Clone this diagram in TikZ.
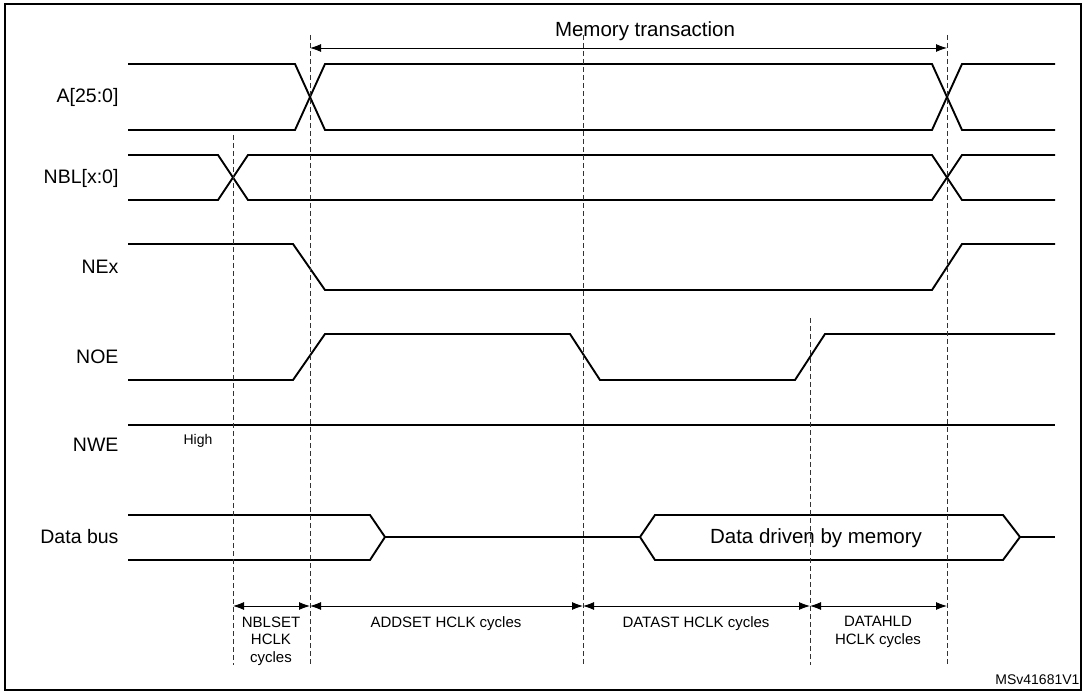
\documentclass[tikz,border=0pt]{standalone}
\usepackage{fontspec}
\setmainfont{Liberation Sans}
\usetikzlibrary{arrows.meta}
\begin{document}
\begin{tikzpicture}[x=1pt,y=-1pt,
  sig/.style={line width=1.9pt, line join=miter},
  guide/.style={dashed, dash pattern=on 5pt off 3pt, line width=0.8pt, black!80},
  dim/.style={line width=0.9pt, {Latex[length=11pt,width=8pt]}-{Latex[length=11pt,width=8pt]}},
  lbl/.style={anchor=east, font=\fontsize{19.5}{22}\selectfont},
  small/.style={font=\fontsize{15}{17.5}\selectfont, align=center}]
\useasboundingbox (0,0) rectangle (1085,692);
\draw[line width=2pt] (5,4) rectangle (1081,690);
% labels
\node[lbl] (lA) at (122,97) {A[25:0]};
\node[lbl] (lB) at (122,178) {NBL[x:0]};
\node[lbl] (lN) at (122,267) {NEx};
\node[lbl] (lO) at (122,357) {NOE};
\node[lbl] (lW) at (122,445) {NWE};
\node[lbl] (lD) at (122,537) {Data bus};
\node[font=\fontsize{14}{16}\selectfont] (hi) at (198,441) {High};
% A
\draw[sig] (128,64) -- (295,64) -- (325,130) -- (932,130) -- (962,64) -- (1055,64);
\draw[sig] (128,130) -- (295,130) -- (325,64) -- (932,64) -- (962,130) -- (1055,130);
% NBL
\draw[sig] (128,155) -- (218,155) -- (248,200) -- (932,200) -- (962,155) -- (1055,155);
\draw[sig] (128,200) -- (218,200) -- (248,155) -- (932,155) -- (962,200) -- (1055,200);
% NEx
\draw[sig] (128,244) -- (293,244) -- (325,290) -- (932,290) -- (962,244) -- (1055,244);
% NOE
\draw[sig] (128,380) -- (293,380) -- (325,334) -- (570,334) -- (600,380) -- (795,380) -- (825,334) -- (1055,334);
% NWE
\draw[sig] (128,425) -- (1055,425);
% Data bus
\draw[sig] (128,515) -- (370,515) -- (385,537) -- (370,560) -- (128,560);
\draw[sig] (385,537) -- (640,537);
\draw[sig] (655,515) -- (640,537) -- (655,560) -- (1003,560) -- (1020,537) -- (1003,515) -- cycle;
\draw[sig] (1020,537) -- (1055,537);
\node[font=\fontsize{20.5}{24}\selectfont] (dd) at (816,538) {Data driven by memory};
% guides
\coordinate (g1t) at (233,135); \coordinate (g1b) at (233,665);
\coordinate (g2t) at (310,35); \coordinate (g2b) at (310,665);
\coordinate (g3t) at (583,35); \coordinate (g3b) at (583,665);
\coordinate (g4t) at (810,318); \coordinate (g4b) at (810,665);
\coordinate (g5t) at (947,35); \coordinate (g5b) at (947,665);
\foreach \g in {1,...,5} \draw[guide] (g\g t) -- (g\g b);
% memory transaction
\coordinate (m1) at (310,48); \coordinate (m2) at (947,48);
\draw[dim] (m1) -- (m2);
\node[font=\fontsize{20.5}{24}\selectfont] (mt) at (645,31) {Memory transaction};
% bottom dims
\coordinate (d1) at (233,606); \coordinate (d2) at (310,606);
\coordinate (d3) at (583,606); \coordinate (d4) at (810,606);
\coordinate (d5) at (947,606);
\draw[dim] (d1) -- (d2); \draw[dim] (d2) -- (d3); \draw[dim] (d3) -- (d4); \draw[dim] (d4) -- (d5);
\node[small, anchor=north] (t1) at (271,613) {NBLSET\\HCLK\\cycles};
\node[small, anchor=north] (t2) at (446,613) {ADDSET HCLK cycles};
\node[small, anchor=north] (t3) at (696,613) {DATAST HCLK cycles};
\node[small, anchor=north] (t4) at (878,613) {DATAHLD\\HCLK cycles};
\node[font=\fontsize{14}{16}\selectfont, anchor=east] (id) at (1083,680) {MSv41681V1};
\end{tikzpicture}
\end{document}
